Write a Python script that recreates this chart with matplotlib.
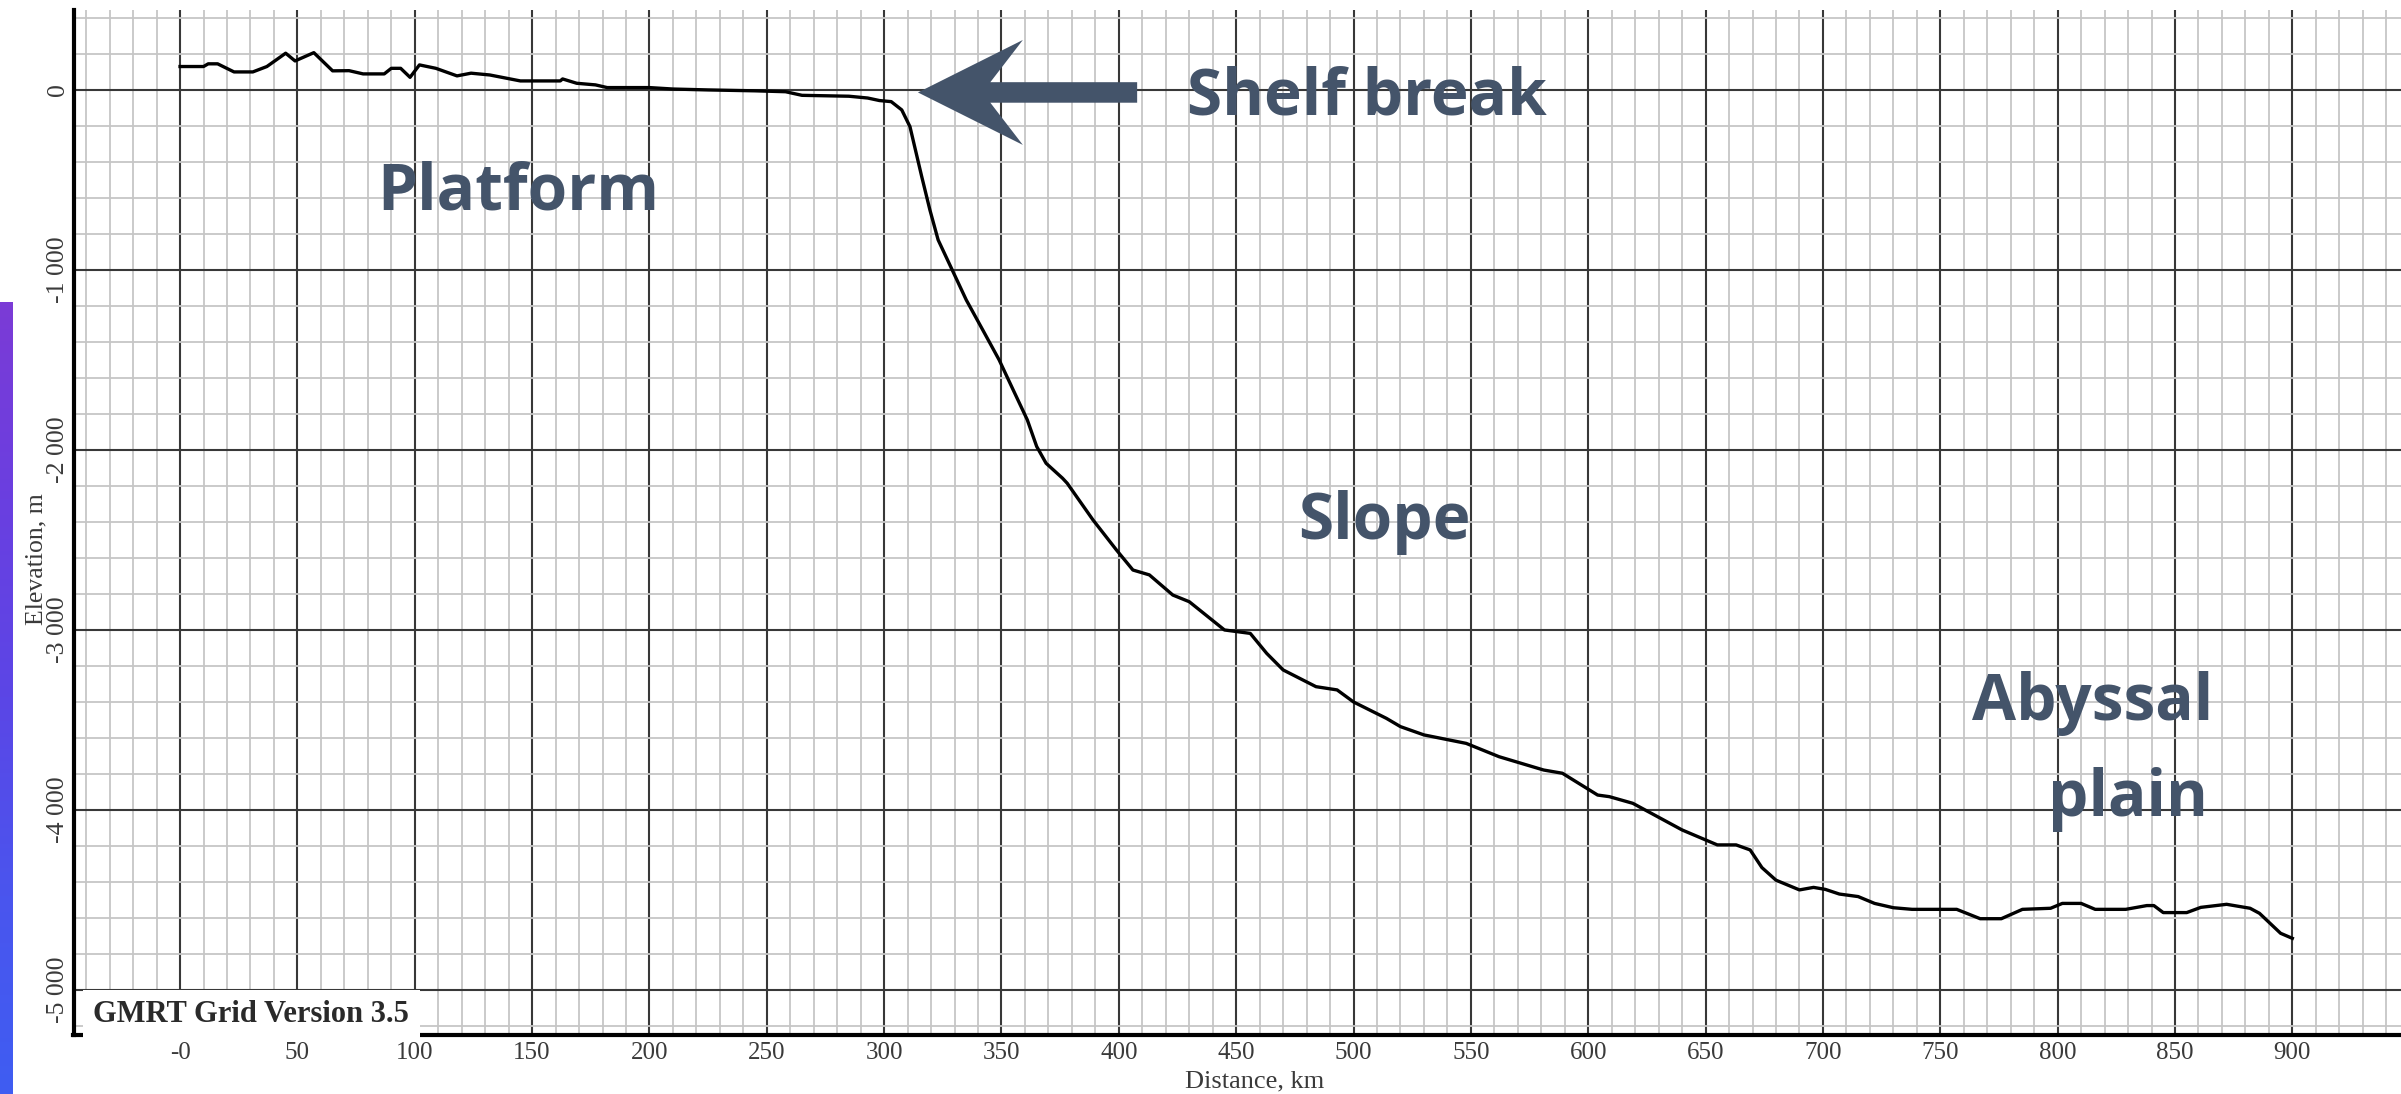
import numpy as np
import matplotlib
matplotlib.use("Agg")
import matplotlib.pyplot as plt
from matplotlib.ticker import MultipleLocator, FixedLocator, FuncFormatter
from matplotlib.colors import LinearSegmentedColormap

# bathymetric profile (distance km, elevation m)
distance_km = [0, 10, 12, 16, 23, 31, 37, 45, 49, 57, 65, 72, 78, 87, 90, 94, 98,
               102, 109, 118, 124, 132, 145, 162, 163, 169, 177, 182, 200, 210,
               225, 245, 258, 265, 285, 293, 298, 303, 307.5, 311, 313, 316,
               319.5, 323, 329, 335, 342, 349, 355, 361, 365, 369, 376, 378, 389,
               399, 406, 413, 423, 430, 445, 456, 463, 470, 484, 493, 500, 514,
               520, 530, 548, 562, 581, 589, 604, 609, 619, 640, 655, 663, 669,
               674, 680, 690, 696, 701, 707, 715, 722, 730, 738, 757, 767, 776,
               785, 797, 802, 810, 816, 829, 838, 841, 845, 855, 861, 872, 882,
               886, 895, 900]
elevation_m = [130, 130, 145, 145, 100, 100, 130, 204, 161, 207, 106, 107, 89, 89,
               120, 120, 70, 139, 120, 78, 93, 83, 50, 50, 61, 37, 28, 13, 13, 5,
               0, -5, -10, -30, -35, -45, -59, -65, -111, -204, -315, -481, -667,
               -833, -1000, -1167, -1333, -1500, -1667, -1833, -1981, -2074,
               -2157, -2185, -2389, -2556, -2667, -2694, -2806, -2843, -3000,
               -3019, -3130, -3222, -3315, -3333, -3400, -3491, -3537, -3583,
               -3630, -3704, -3778, -3796, -3917, -3926, -3963, -4111, -4194,
               -4194, -4222, -4320, -4390, -4444, -4430, -4441, -4467, -4481,
               -4519, -4543, -4552, -4552, -4604, -4604, -4552, -4546, -4519,
               -4519, -4552, -4552, -4531, -4531, -4570, -4570, -4541, -4524,
               -4546, -4574, -4685, -4713]

x_ticks = list(range(0, 901, 50))
x_tick_labels = ["-0"] + [str(v) for v in x_ticks[1:]]
y_ticks = [0, -1000, -2000, -3000, -4000, -5000]
y_tick_labels = ["0", "-1 000", "-2 000", "-3 000", "-4 000", "-5 000"]

# zones labelled on the slide: (text, km, elevation of baseline)
zone_labels = [("Platform", 144, -667), ("Slope", 513, -2494),
               ("Abyssal", 815, -3498), ("plain", 830, -4033)]

W, H = 2401, 1094
fig = plt.figure(figsize=(W / 100, H / 100), dpi=100)
fig.patch.set_facecolor("white")

ax_left, ax_bottom, ax_top = 73.5, 1035, 10
ax = fig.add_axes([ax_left / W, 1 - ax_bottom / H, 1 - ax_left / W,
                   (ax_bottom - ax_top) / H])
ax.set_xlim(-45.4, 946.3)
ax.set_ylim(-5250, 444)

serif = ["Liberation Serif", "DejaVu Serif"]
ax.xaxis.set_major_locator(FixedLocator(x_ticks + [-50, 950]))
ax.xaxis.set_minor_locator(MultipleLocator(10))
ax.yaxis.set_major_locator(FixedLocator(y_ticks))
ax.yaxis.set_minor_locator(MultipleLocator(200))
ax.xaxis.set_major_formatter(FuncFormatter(
    lambda v, p: x_tick_labels[x_ticks.index(int(v))] if int(v) in x_ticks else ""))
ax.yaxis.set_major_formatter(FuncFormatter(
    lambda v, p: y_tick_labels[y_ticks.index(int(v))] if int(v) in y_ticks else ""))

ax.grid(which="minor", color="#c6c6c6", lw=1.3, zorder=0)
ax.grid(which="major", color="#383838", lw=1.5, zorder=0)
ax.set_axisbelow(True)

ax.tick_params(which="both", length=0)
ax.tick_params(axis="x", pad=5, labelsize=18, labelcolor="#3a3a3a")
ax.tick_params(axis="y", pad=3, labelsize=18.5, labelcolor="#3a3a3a")
for lab in ax.get_xticklabels() + ax.get_yticklabels():
    lab.set_fontfamily(serif)
for lab in ax.get_yticklabels():
    lab.set_rotation(90)
    lab.set_va("center")

for s in ["top", "right"]:
    ax.spines[s].set_visible(False)
for s in ["left", "bottom"]:
    ax.spines[s].set_linewidth(3)
    ax.spines[s].set_color("black")

ax.set_xlabel("Distance, km", fontsize=19, family=serif, color="#3a3a3a",
              va="top")
ax.xaxis.set_label_coords(0.5076, -0.0345)
ax.set_ylabel("Elevation, m", fontsize=18.5, family=serif, color="#3a3a3a")
ax.yaxis.set_label_coords(-0.0114, 0.464)

ax.plot(distance_km, elevation_m, color="black", lw=2.4, zorder=3)

ax.text(-37, -5180, "GMRT Grid Version 3.5", fontsize=22, fontweight="bold",
        family=serif, color="#2a2a2a", va="baseline", zorder=4,
        bbox=dict(facecolor="white", edgecolor="none",
                  boxstyle="square,pad=0.35"))

slate = "#44546A"
ann = dict(family=["Open Sans", "DejaVu Sans"], fontweight="bold", color=slate,
           ha="center", va="baseline", fontsize=46, zorder=5)
ax.text(505.7, -139, "Shelf break", **ann)
for txt, xk, yb in zone_labels:
    ax.text(xk, yb, txt, **ann)

ax.arrow(407.8, -14, 314.4 - 407.8, 0, width=114, head_width=583,
         head_length=44.7, overhang=0.31, length_includes_head=True,
         color=slate, lw=0, zorder=5)

# decorative purple strip on the slide's left edge
strip = fig.add_axes([0, 0, 12 / W, 1 - 302 / H])
cmap = LinearSegmentedColormap.from_list(
    "slide", ["#7b3bd6", "#6a3fe0", "#5b46e6", "#4a55ee", "#3f5df2"])
strip.imshow(np.linspace(0, 1, 200)[:, None], aspect="auto", cmap=cmap)
strip.axis("off")

fig.savefig("out.png", dpi=100)
